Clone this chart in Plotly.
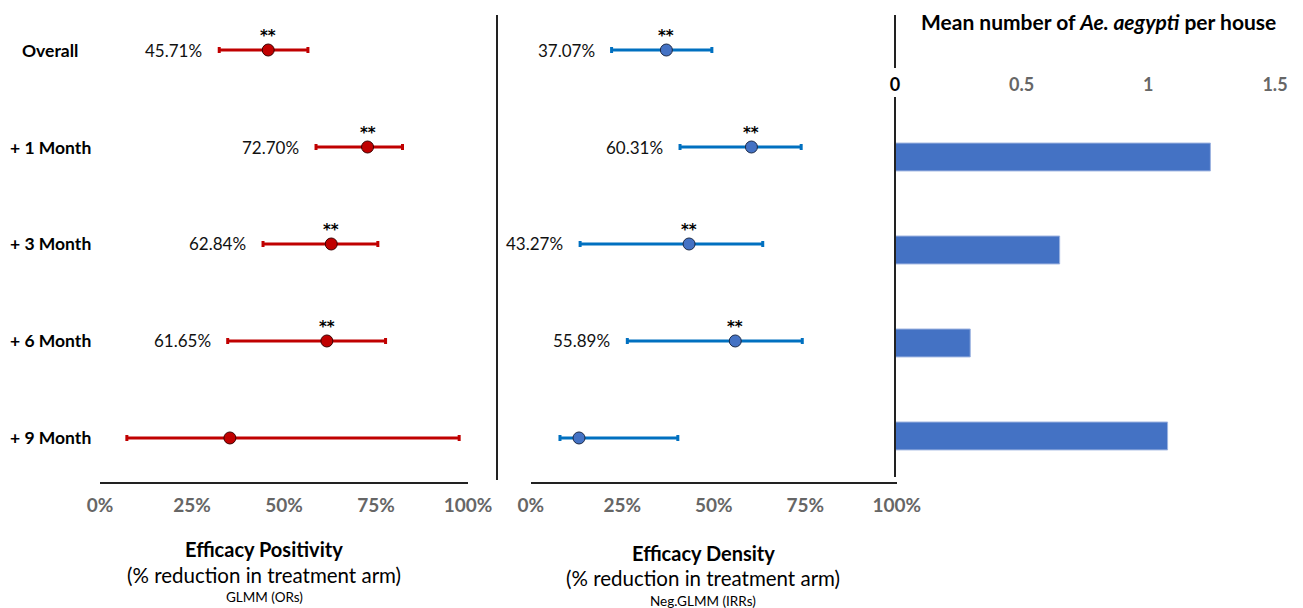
import plotly.graph_objects as go

W, H = 1303, 608
OFF = 8  # page body margin in the browser
def px(x): return (x - OFF) / W
def py(y): return 1 - (y - OFF) / H

categories = ["Overall", "+ 1 Month", "+ 3 Month", "+ 6 Month", "+ 9 Month"]

# Efficacy positivity (GLMM ORs), % reduction
pos_est = [45.71, 72.70, 62.84, 61.65, 35.3]
pos_lo = [32.4, 58.7, 44.3, 34.7, 7.3]
pos_hi = [56.5, 82.2, 75.5, 77.6, 97.6]
pos_labels = ["45.71%", "72.70%", "62.84%", "61.65%", ""]
pos_sig = ["**", "**", "**", "**", ""]

# Efficacy density (Neg.GLMM IRRs), % reduction
den_est = [37.07, 60.31, 43.27, 55.89, 13.2]
den_lo = [22.1, 40.8, 13.5, 26.4, 8.0]
den_hi = [49.5, 73.9, 63.4, 74.2, 40.2]
den_labels = ["37.07%", "60.31%", "43.27%", "55.89%", ""]
den_sig = ["**", "**", "**", "**", ""]

# Mean number of Ae. aegypti per house
bar_cats = ["+ 1 Month", "+ 3 Month", "+ 6 Month", "+ 9 Month"]
bar_vals = [1.245, 0.65, 0.297, 1.076]

pct_ticks = [0, 25, 50, 75, 100]
pct_ticktext = ["0%", "25%", "50%", "75%", "100%"]
bar_ticks = [0, 0.5, 1, 1.5]
bar_ticktext = ["<span style='color:#000000'>0</span>", "0.5", "1", "1.5"]

FONT = "Lato"
RED = "#C00000"
BLUE_ERR = "#0070C0"
BLUE = "#4472C4"
GRAY = "#666666"

fig = go.Figure()

def diffs(est, lo, hi):
    return [h - e for e, h in zip(est, hi)], [e - l for e, l in zip(est, lo)]

p_plus, p_minus = diffs(pos_est, pos_lo, pos_hi)
fig.add_trace(go.Scatter(
    x=pos_est, y=categories, mode="markers", xaxis="x", yaxis="y",
    marker=dict(size=12, color=RED, line=dict(color="#3d0000", width=1)),
    error_x=dict(type="data", symmetric=False, array=p_plus, arrayminus=p_minus,
                 color=RED, thickness=3, width=3),
    showlegend=False, hoverinfo="skip"))

d_plus, d_minus = diffs(den_est, den_lo, den_hi)
fig.add_trace(go.Scatter(
    x=den_est, y=categories, mode="markers", xaxis="x2", yaxis="y2",
    marker=dict(size=12, color=BLUE, line=dict(color="#1b2a47", width=1)),
    error_x=dict(type="data", symmetric=False, array=d_plus, arrayminus=d_minus,
                 color=BLUE_ERR, thickness=3, width=3),
    showlegend=False, hoverinfo="skip"))

fig.add_trace(go.Bar(
    x=bar_vals, y=bar_cats, orientation="h", xaxis="x3", yaxis="y3",
    width=0.3, marker=dict(color=BLUE, line=dict(color="#9db3e0", width=1)),
    showlegend=False, hoverinfo="skip"))

annotations = []
for i, c in enumerate(categories):
    annotations.append(dict(xref="paper", yref="y", x=px(50), y=c, text="<b>%s</b>" % c,
                            showarrow=False, xanchor="center", yanchor="middle",
                            font=dict(family=FONT, size=17.5, color="#000000")))
for (est, lo, labs, sig, xr, yr) in [(pos_est, pos_lo, pos_labels, pos_sig, "x", "y"),
                                     (den_est, den_lo, den_labels, den_sig, "x2", "y2")]:
    for i, c in enumerate(categories):
        if labs[i]:
            annotations.append(dict(xref=xr, yref=yr, x=lo[i], y=c, text=labs[i],
                                    showarrow=False, xanchor="right", yanchor="middle",
                                    xshift=-15, font=dict(family=FONT, size=17, color="#111111")))
        if sig[i]:
            annotations.append(dict(xref=xr, yref=yr, x=est[i], y=c, text="<b>%s</b>" % sig[i],
                                    showarrow=False, xanchor="center", yanchor="middle",
                                    yshift=14, font=dict(family="DejaVu Sans", size=15, color="#000000")))

def title_block(xc, y1, y2, y3, t1, t2, t3):
    annotations.append(dict(xref="paper", yref="paper", x=px(xc), y=py(y1), text="<b>%s</b>" % t1,
                            showarrow=False, xanchor="center", yanchor="middle",
                            font=dict(family=FONT, size=20, color="#000000")))
    annotations.append(dict(xref="paper", yref="paper", x=px(xc), y=py(y2), text=t2,
                            showarrow=False, xanchor="center", yanchor="middle",
                            font=dict(family=FONT, size=20.5, color="#000000")))
    annotations.append(dict(xref="paper", yref="paper", x=px(xc), y=py(y3), text=t3,
                            showarrow=False, xanchor="center", yanchor="middle",
                            font=dict(family=FONT, size=13.5, color="#000000")))

title_block(264, 549, 575, 597, "Efficacy Positivity", "(% reduction in treatment arm)", "GLMM (ORs)")
title_block(703, 553, 578, 601, "Efficacy Density", "(% reduction in treatment arm)", "Neg.GLMM (IRRs)")

annotations.append(dict(xref="paper", yref="paper", x=px(1098), y=py(22),
                        text="<b>Mean number of <i>Ae. aegypti</i> per house</b>",
                        showarrow=False, xanchor="center", yanchor="middle",
                        font=dict(family=FONT, size=21, color="#000000")))

shapes = [
    dict(type="line", xref="paper", yref="paper", x0=px(497), x1=px(497), y0=py(15), y1=py(480),
         line=dict(color="#222222", width=2)),
    dict(type="line", xref="paper", yref="paper", x0=px(895), x1=px(895), y0=py(15), y1=py(68),
         line=dict(color="#222222", width=2)),
    dict(type="line", xref="paper", yref="paper", x0=px(895), x1=px(895), y0=py(97), y1=py(477),
         line=dict(color="#222222", width=2)),
]

pct_axis = dict(range=[0, 100], tickvals=pct_ticks, ticktext=pct_ticktext,
                showline=True, linecolor="#222222", linewidth=2, showgrid=False, zeroline=False,
                ticks="", ticklabelstandoff=5, automargin=False,
                tickfont=dict(family=FONT, size=19, color=GRAY, weight="bold"), fixedrange=True)
cat_axis = dict(type="category", categoryarray=categories, showgrid=False, zeroline=False,
                showline=False, showticklabels=False, ticks="", fixedrange=True, automargin=False)

fig.update_layout(
    width=W, height=H, margin=dict(l=0, r=0, t=0, b=0, pad=0, autoexpand=False),
    paper_bgcolor="white", plot_bgcolor="white",
    xaxis=dict(domain=[px(100), px(468)], anchor="y", **pct_axis),
    yaxis=dict(domain=[py(482), py(15)], anchor="x", range=[4.454, -0.361], **cat_axis),
    xaxis2=dict(domain=[px(530.7), px(896.7)], anchor="y2", **pct_axis),
    yaxis2=dict(domain=[py(482), py(15)], anchor="x2", range=[4.454, -0.361], **cat_axis),
    xaxis3=dict(domain=[px(895), px(1275)], range=[0, 1.5], side="top", anchor="free",
                position=py(97), tickvals=bar_ticks, ticktext=bar_ticktext, automargin=False,
                showline=False, showgrid=False, zeroline=False, ticks="", ticklabelstandoff=2,
                tickfont=dict(family=FONT, size=18, color=GRAY, weight="bold"), fixedrange=True),
    yaxis3=dict(domain=[py(482), py(15)], anchor="x3", range=[4.495, -0.527], **cat_axis),
    annotations=annotations, shapes=shapes,
)

fig.write_html("out.html")
